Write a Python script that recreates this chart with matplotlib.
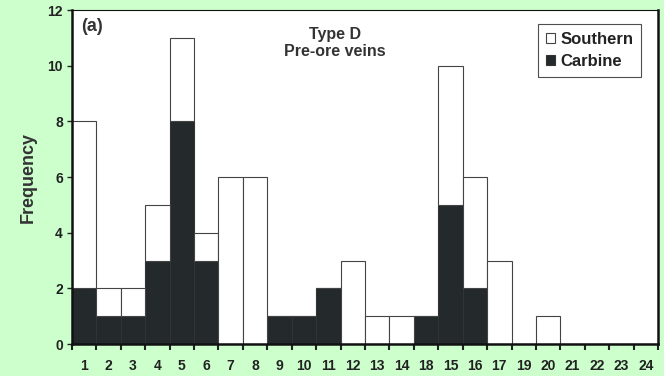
import matplotlib
matplotlib.use("Agg")
import matplotlib.pyplot as plt
import numpy as np

categories = ["1", "2", "3", "4", "5", "6", "7", "8", "9", "10", "11", "12",
              "13", "14", "18", "15", "16", "17", "19", "20", "21", "22", "23", "24"]
carbine = [2, 1, 1, 3, 8, 3, 0, 0, 1, 1, 2, 0, 0, 0, 1, 5, 2, 0, 0, 0, 0, 0, 0, 0]
southern = [6, 1, 1, 2, 3, 1, 6, 6, 0, 0, 0, 3, 1, 1, 0, 5, 4, 3, 0, 1, 0, 0, 0, 0]

plt.rcParams['font.family'] = ['Liberation Sans', 'DejaVu Sans']
plt.rcParams['font.weight'] = 'bold'

bg = '#CCFFCC'
dark = '#24292B'
fig = plt.figure(figsize=(6.64, 3.76), dpi=100, facecolor=bg)
ax = fig.add_axes([0.1084, 0.0851, 0.8826, 0.8879])
ax.set_facecolor('white')

x = np.arange(len(categories))
ax.bar(x, carbine, width=1.0, color=dark, edgecolor='#333333', linewidth=0.8, label='Carbine')
ax.bar(x, southern, width=1.0, bottom=carbine, color='white', edgecolor='#444444',
       linewidth=0.8, label='Southern')

ax.set_xlim(-0.5, len(categories) - 0.5)
ax.set_ylim(0, 12)
ax.set_yticks(range(0, 13, 2))
ax.set_yticklabels([str(v) for v in range(0, 13, 2)], fontsize=10, fontweight='bold',
                   color='#222222')

ax.set_xticks(x)
ax.set_xticklabels(categories, fontsize=10, fontweight='bold', color='#222222')
ax.tick_params(axis='x', which='major', length=0, pad=11)
ax.set_xticks(np.arange(-0.5, len(categories), 1.0), minor=True)
ax.tick_params(axis='x', which='minor', length=4, width=1.5, direction='out', color='#222222')
ax.tick_params(axis='y', length=3.5, width=1, direction='out', color='#222222', pad=3)

for side in ['left', 'bottom', 'right']:
    ax.spines[side].set_linewidth(1.8)
    ax.spines[side].set_color('#111111')
ax.spines['top'].set_linewidth(0.8)
ax.spines['top'].set_color('#111111')

ax.set_ylabel('Frequency', fontsize=13, fontweight='bold', color='#333333', labelpad=8)

ax.text(0.016, 0.975, '(a)', transform=ax.transAxes, fontsize=13, fontweight='bold',
        color='#333333', va='top', ha='left')
ax.text(0.449, 0.95, 'Type D\nPre-ore veins', transform=ax.transAxes, fontsize=11.5,
        fontweight='bold', color='#333333', va='top', ha='center', linespacing=1.2)

handles, labels = ax.get_legend_handles_labels()
leg = ax.legend(handles[::-1], labels[::-1], loc='upper right', bbox_to_anchor=(0.971, 0.958),
                fontsize=12, frameon=True, fancybox=False, edgecolor='#222222',
                handlelength=0.55, handleheight=0.55, handletextpad=0.35, borderpad=0.45,
                labelspacing=0.45, borderaxespad=0.0)
leg.get_frame().set_linewidth(0.8)
for t in leg.get_texts():
    t.set_fontweight('bold')
    t.set_color('#222222')

fig.savefig('out.png', dpi=100, facecolor=bg)
